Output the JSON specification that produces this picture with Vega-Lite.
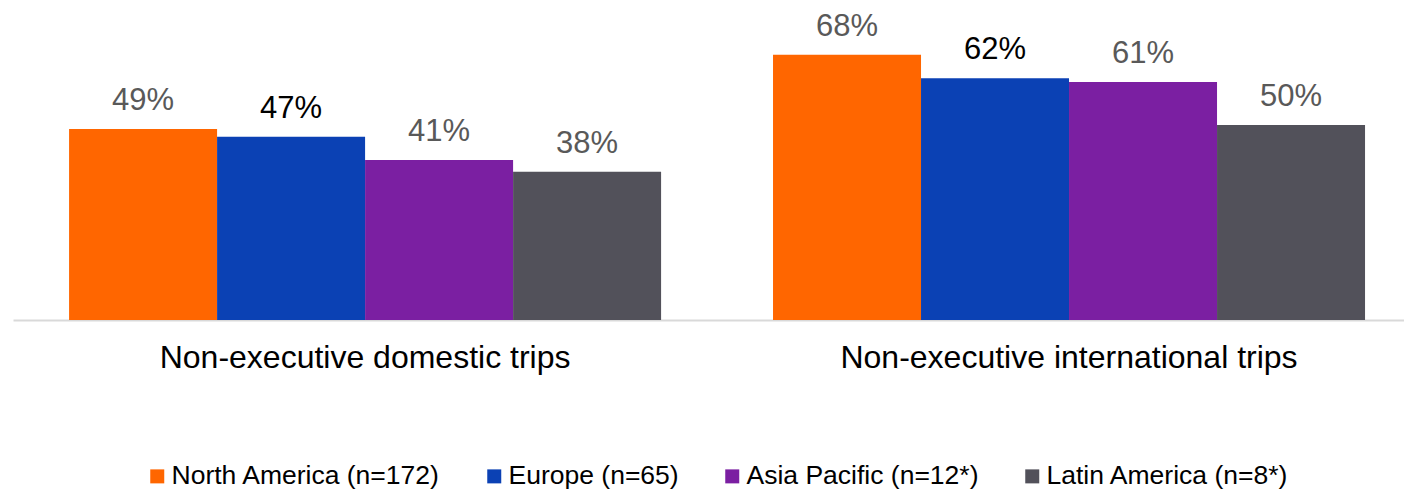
{
  "$schema": "https://vega.github.io/schema/vega-lite/v6.json",
  "width": 1391,
  "height": 312,
  "autosize": {"type": "none"},
  "padding": {"left": 13, "top": 8, "right": 0, "bottom": 171},
  "background": "white",
  "config": {
    "font": "Liberation Sans",
    "view": {"stroke": null}
  },
  "data": {
    "values": [
      {"trip": "Non-executive domestic trips", "region": "North America (n=172)", "value": 0.49},
      {"trip": "Non-executive domestic trips", "region": "Europe (n=65)", "value": 0.47},
      {"trip": "Non-executive domestic trips", "region": "Asia Pacific (n=12*)", "value": 0.41},
      {"trip": "Non-executive domestic trips", "region": "Latin America (n=8*)", "value": 0.38},
      {"trip": "Non-executive international trips", "region": "North America (n=172)", "value": 0.68},
      {"trip": "Non-executive international trips", "region": "Europe (n=65)", "value": 0.62},
      {"trip": "Non-executive international trips", "region": "Asia Pacific (n=12*)", "value": 0.61},
      {"trip": "Non-executive international trips", "region": "Latin America (n=8*)", "value": 0.50}
    ]
  },
  "encoding": {
    "x": {
      "field": "trip",
      "type": "nominal",
      "sort": null,
      "scale": {"paddingInner": 0.159, "paddingOuter": 0.0675, "align": 0.59},
      "axis": {
        "title": null,
        "labelAngle": 0,
        "labelFontSize": 32,
        "labelColor": "#000000",
        "labelLimit": 0,
        "ticks": false,
        "labelPadding": 47,
        "labelBaseline": "alphabetic",
        "domainColor": "#D9D9D9",
        "domainWidth": 2,
        "grid": false
      }
    },
    "xOffset": {
      "field": "region",
      "type": "nominal",
      "sort": ["North America (n=172)", "Europe (n=65)", "Asia Pacific (n=12*)", "Latin America (n=8*)"],
      "scale": {"paddingInner": 0, "paddingOuter": 0}
    },
    "y": {
      "field": "value",
      "type": "quantitative",
      "scale": {"domain": [0, 0.8]},
      "axis": null
    }
  },
  "layer": [
    {
      "mark": {"type": "bar"},
      "encoding": {
        "color": {
          "field": "region",
          "type": "nominal",
          "sort": ["North America (n=172)", "Europe (n=65)", "Asia Pacific (n=12*)", "Latin America (n=8*)"],
          "scale": {
            "domain": ["North America (n=172)", "Europe (n=65)", "Asia Pacific (n=12*)", "Latin America (n=8*)"],
            "range": ["#FF6600", "#0B41B4", "#7B1FA2", "#52515A"]
          },
          "legend": {
            "title": null,
            "orient": "none",
            "direction": "horizontal",
            "legendX": 131,
            "legendY": 455,
            "padding": 0,
            "symbolType": "square",
            "symbolSize": 196,
            "symbolStrokeWidth": 0,
            "labelFontSize": 26.5,
            "labelColor": "#000000",
            "labelOffset": 1,
            "columnPadding": 40,
            "labelLimit": 0
          }
        }
      }
    },
    {
      "mark": {"type": "text", "baseline": "alphabetic", "dy": -19, "fontSize": 31},
      "encoding": {
        "text": {"field": "value", "type": "quantitative", "format": ".0%"},
        "color": {
          "condition": {"test": "datum.region === 'Europe (n=65)'", "value": "#000000"},
          "value": "#595959"
        }
      }
    }
  ]
}
